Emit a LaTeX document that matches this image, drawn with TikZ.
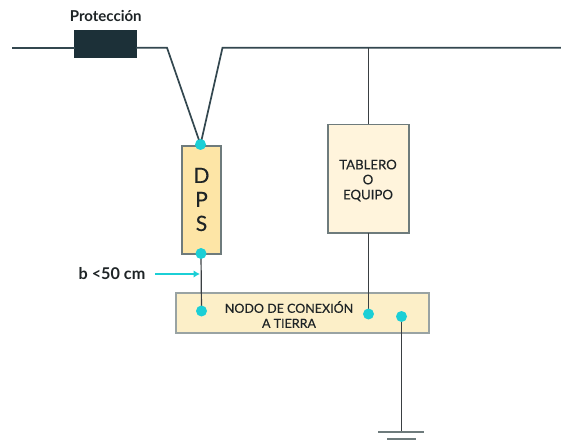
\documentclass[tikz,border=0pt]{standalone}
\usepackage{fontspec}
\usetikzlibrary{arrows.meta}
\setmainfont{Lato}
\newfontfamily\medfont[FakeBold=0.3]{Lato}
\definecolor{wire}{HTML}{33474F}
\definecolor{wirethin}{HTML}{3A3F42}
\definecolor{dark}{HTML}{1C3038}
\definecolor{dpsfill}{HTML}{FDE5A6}
\definecolor{boxfill}{HTML}{FFF4DC}
\definecolor{nodefill}{HTML}{FCEFC8}
\definecolor{edge}{HTML}{6E7B7C}
\definecolor{dotc}{HTML}{1BCFD6}
\definecolor{txt}{HTML}{1E2426}
\tikzset{
  box/.style={draw=edge,line width=1.2pt,inner sep=0pt,outer sep=0pt,anchor=north west,text=txt,align=center},
  wirebus/.style={draw=wire,line width=1.7pt,line join=miter},
  wirev/.style={draw=wirethin,line width=1.2pt},
  gndbar/.style={draw=edge,line width=1.6pt},
  dotn/.style={circle,fill=dotc,inner sep=0pt,minimum size=11pt},
  lbl/.style={text=txt,font=\bfseries,inner sep=0pt},
  boxtext/.style={text=txt,align=center,inner sep=0pt}
}
\begin{document}
\begin{tikzpicture}[x=1pt,y=-1pt]
\useasboundingbox (0,0) rectangle (561,443);
% junction points
\coordinate (busL) at (12,47.7);
\coordinate (bendL) at (167,47.7);
\coordinate (bendR) at (222.5,47.7);
\coordinate (busR) at (561,47.7);
\coordinate (busT) at (368.5,47.7);
\coordinate (gndTop) at (401.5,432);
\coordinate (g1a) at (378,432);
\coordinate (g1b) at (424,432);
\coordinate (g2a) at (387,439);
\coordinate (g2b) at (416,439);
\coordinate (arrS) at (155,274);
\coordinate (arrE) at (200,274);
% boxes
\node[box,fill=dark,draw=dark,minimum width=61pt,minimum height=27pt] (prot) at (75,30.2) {};
\node[box,fill=dpsfill,minimum width=39pt,minimum height=108pt] (dps) at (182,146) {};
\node[box,fill=boxfill,minimum width=81pt,minimum height=108.5pt] (tab) at (328,124.5) {};
\node[box,fill=nodefill,draw=edge!70,minimum width=253pt,minimum height=40pt] (tierra) at (176,293) {};
% dots' coordinates
\coordinate (d1) at (200.5,144.5);
\coordinate (d2) at (201,253.5);
\coordinate (d3) at (201.5,311);
\coordinate (d4) at (368.5,314);
\coordinate (d5) at (401.5,316.5);
% wires
\draw[wirebus] (busL) -- (prot.west |- busL);
\draw[wirebus] (prot.east |- busL) -- (bendL) -- (d1) -- (bendR) -- (busR);
\draw[wirev] (busT) -- (tab.north);
\draw[wirev] (tab.south) -- (d4);
\draw[wirev] (d2) -- (d3);
\draw[wirev] (d5) -- (gndTop);
\draw[gndbar] (g1a) -- (g1b);
\draw[gndbar] (g2a) -- (g2b);
\draw[dotc,line width=1.2pt,-{Latex[length=6.5pt,width=7.5pt]}] (arrS) -- (arrE);
% dots
\foreach \p/\n in {d1/n1,d2/n2,d3/n3,d4/n4,d5/n5} \node[dotn] (\n) at (\p) {};
% labels
\node[lbl,font=\fontsize{15pt}{16pt}\selectfont\bfseries] (tprot) at (105.8,16.5) {Protección};
\node[lbl,font=\fontsize{16.2pt}{17pt}\selectfont\bfseries] (tb) at (112,274) {b <50 cm};
\node[boxtext,font=\medfont\fontsize{21pt}{24pt}\selectfont] (tdps) at (201.5,199.5) {D\\P\\S};
\node[boxtext,font=\medfont\fontsize{13.2pt}{15pt}\selectfont] (ttab) at (368,180.5) {TABLERO\\O\\EQUIPO};
\node[boxtext,font=\medfont\fontsize{12.5pt}{15pt}\selectfont] (tnodo) at (289,314.5) {NODO DE CONEXIÓN\\A TIERRA};
\end{tikzpicture}
\end{document}
